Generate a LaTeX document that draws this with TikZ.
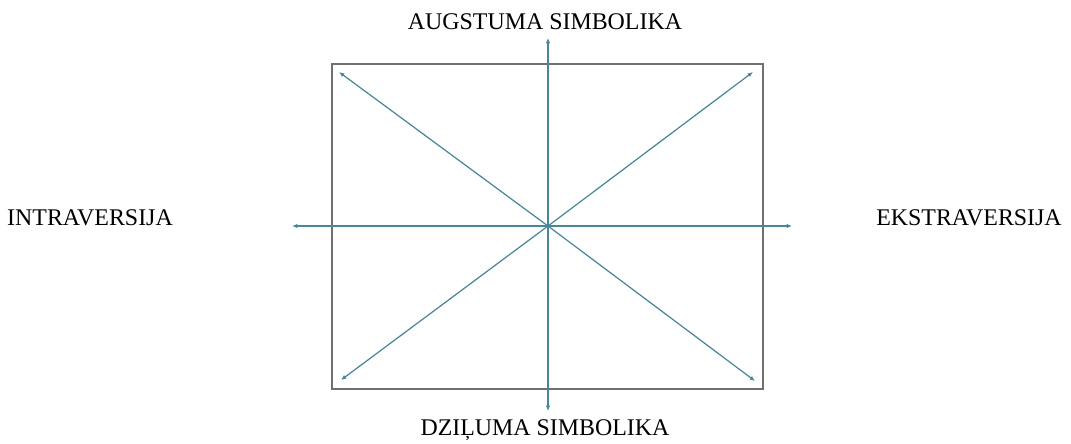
\documentclass[tikz,border=0pt]{standalone}
\usepackage{fontspec}
\setmainfont{Liberation Serif}
\usetikzlibrary{arrows.meta}
\definecolor{axisblue}{HTML}{4A8598}
\definecolor{framegray}{HTML}{707070}
\tikzset{
    frame/.style={draw=framegray, line width=1.1pt, inner sep=0pt,
                  minimum width=8.62cm, minimum height=6.5cm},
    axis/.style={draw=axisblue, line width=0.7pt, -{Latex[length=3pt,width=2.5pt]}},
    label/.style={font=\fontsize{13.6}{15}\selectfont, inner sep=0pt},
}

\begin{document}
\begin{tikzpicture}[x=0.02cm, y=-0.02cm]
    \path[use as bounding box] (0,0) rectangle (1071,443);

    \node[frame] (box) at (547.5,226.5) {};

    \coordinate (centre) at (548,226);
    \coordinate (up) at (548,38);
    \coordinate (down) at (548,411);
    \coordinate (left) at (292,226);
    \coordinate (right) at (792,226);
    \coordinate (upleft) at (339,72);
    \coordinate (upright) at (753,72);
    \coordinate (downleft) at (341,380);
    \coordinate (downright) at (755,381);

    \foreach \tip in {up,down,left,right,upleft,upright,downleft,downright}
        \draw[axis] (centre) -- (\tip);

    \node[label] (height) at (545,22) {AUGSTUMA SIMBOLIKA};
    \node[label] (depth) at (545,430) {DZIĻUMA SIMBOLIKA};
    \node[label] (intro) at (90,218) {INTRAVERSIJA};
    \node[label] (extro) at (969,218) {EKSTRAVERSIJA};
\end{tikzpicture}
\end{document}
